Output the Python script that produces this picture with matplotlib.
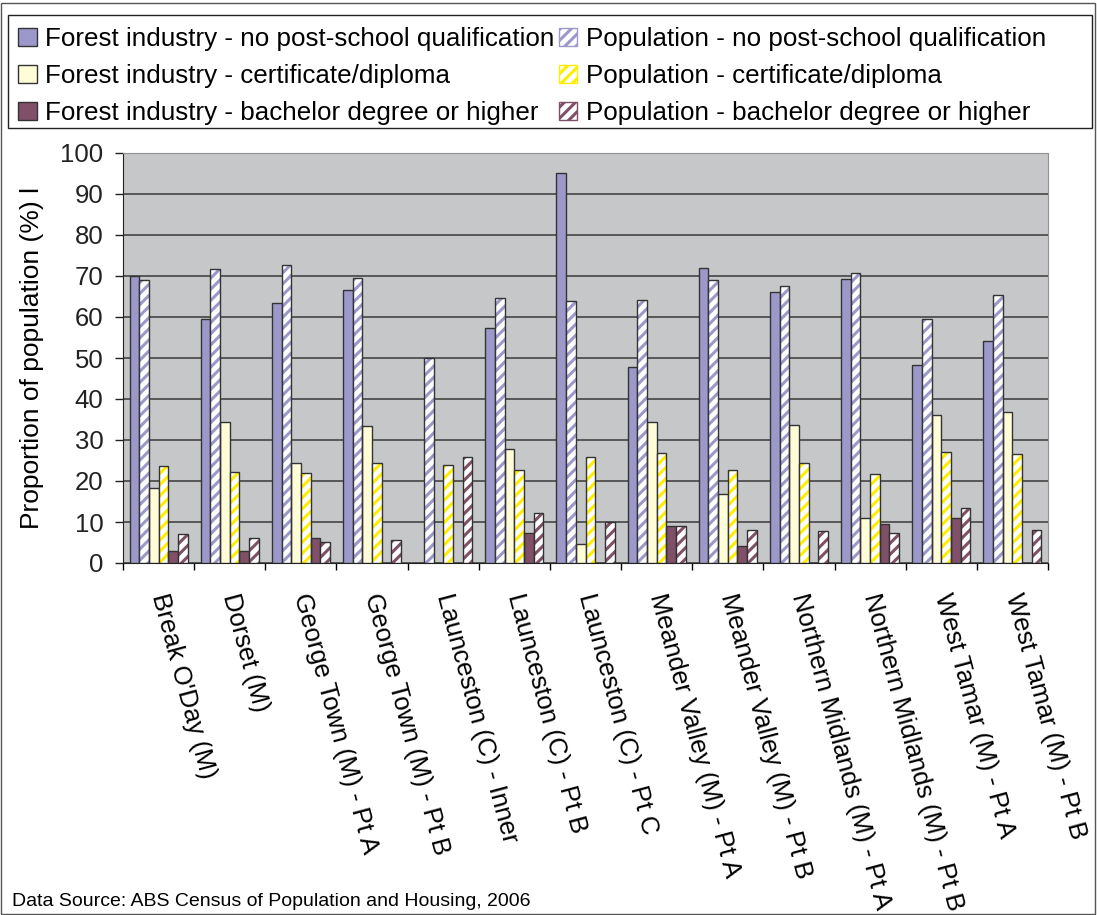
import matplotlib
matplotlib.use("Agg")
import matplotlib.pyplot as plt
import numpy as np
from matplotlib.patches import Rectangle, Patch

categories = ["Break O'Day (M)", "Dorset (M)", "George Town (M) - Pt A", "George Town (M) - Pt B",
              "Launceston (C) - Inner", "Launceston (C) - Pt B", "Launceston (C) - Pt C",
              "Meander Valley (M) - Pt A", "Meander Valley (M) - Pt B",
              "Northern Midlands (M) - Pt A", "Northern Midlands (M) - Pt B",
              "West Tamar (M) - Pt A", "West Tamar (M) - Pt B"]

fi_noqual = [70.1, 59.4, 63.3, 66.5, 0, 57.2, 95.2, 47.7, 71.9, 66.2, 69.2, 48.4, 54.2]
pop_noqual = [69.1, 71.7, 72.8, 69.5, 50.0, 64.7, 64.0, 64.2, 69.1, 67.5, 70.8, 59.6, 65.3]
fi_cert = [18.4, 34.4, 24.4, 33.5, 0, 27.9, 4.7, 34.3, 16.8, 33.6, 11.0, 36.1, 36.9]
pop_cert = [23.7, 22.2, 22.0, 24.4, 24.0, 22.7, 25.9, 26.9, 22.6, 24.4, 21.7, 27.0, 26.5]
fi_bach = [2.9, 2.9, 6.1, 0, 0, 7.2, 0, 9.0, 4.2, 0, 9.6, 11.0, 0]
pop_bach = [7.1, 6.1, 5.1, 5.7, 25.9, 12.3, 9.9, 9.0, 8.1, 7.8, 7.3, 13.5, 8.1]

series_labels = ["Forest industry - no post-school qualification",
                 "Population - no post-school qualification",
                 "Forest industry - certificate/diploma",
                 "Population - certificate/diploma",
                 "Forest industry - bachelor degree or higher",
                 "Population - bachelor degree or higher"]

plt.rcParams['font.family'] = ['Liberation Sans', 'DejaVu Sans']
plt.rcParams['hatch.linewidth'] = 2.2

C_NO = '#9C99CA'
C_CERT_FI = '#FFFDD8'
C_CERT_POP = '#FFEE00'
C_BACH = '#7F5068'
EDGE = '#333333'

W, H = 1097, 915
fig = plt.figure(figsize=(W / 100, H / 100), dpi=100)
ax = fig.add_axes([123 / W, 1 - 563 / H, (1048 - 123) / W, (563 - 153) / H])
ax.set_facecolor('#C6C7C9')

x = np.arange(len(categories))
bw = 0.136
series = [(fi_noqual, C_NO, None), (pop_noqual, 'white', C_NO),
          (fi_cert, C_CERT_FI, None), (pop_cert, 'white', C_CERT_POP),
          (fi_bach, C_BACH, None), (pop_bach, 'white', C_BACH)]
for i, (vals, fc, hc) in enumerate(series):
    pos = x - 3 * bw + bw / 2 + i * bw
    vals = np.array(vals, dtype=float)
    if hc is None:
        ax.bar(pos, vals, bw, color=fc, edgecolor=EDGE, linewidth=1.0, zorder=3)
    else:
        ax.bar(pos, vals, bw, color=fc, edgecolor=hc, hatch='///', linewidth=0, zorder=3)
        ax.bar(pos, vals, bw, fill=False, edgecolor=EDGE, linewidth=1.0, zorder=4)

ax.set_xlim(-0.5, len(categories) - 0.5)
ax.set_ylim(0, 100)
ax.set_yticks(np.arange(0, 101, 10))
ax.yaxis.grid(True, color='#3a3a3a', linewidth=1.1, zorder=1)
ax.set_axisbelow(True)
ax.tick_params(axis='y', labelsize=18.5, length=6, width=1, direction='out', pad=8, colors='#222222')

ax.set_xticks(np.arange(-0.5, len(categories), 1.0))
ax.set_xticklabels([])
ax.tick_params(axis='x', which='major', length=5, width=1, direction='out')
ax.set_xticks(x, minor=True)
ax.set_xticklabels(categories, minor=True, rotation=-75, ha='left', va='center',
                   rotation_mode='anchor', fontsize=18.5)
ax.tick_params(axis='x', which='minor', length=0, pad=22)

for s in ['top', 'right']:
    ax.spines[s].set_color('#909090')
for s in ['left', 'bottom']:
    ax.spines[s].set_color('#222222')

ax.set_ylabel('Proportion of population (%) l', fontsize=19, labelpad=12)

handles = []
for vals, fc, hc in series:
    if hc is None:
        handles.append(Patch(facecolor=fc, edgecolor=EDGE, linewidth=1.0))
    else:
        handles.append(Patch(facecolor=fc, edgecolor=hc, hatch='///', linewidth=1.0))
order = [0, 2, 4, 1, 3, 5]
leg = fig.legend([handles[i] for i in order], [series_labels[i] for i in order],
                 loc='upper left', bbox_to_anchor=(18 / W, 1 - 27 / H), ncol=2,
                 frameon=False, fontsize=18.7, handlelength=0.72, handleheight=0.72,
                 handletextpad=0.33, columnspacing=0.15, labelspacing=0.5,
                 borderaxespad=0, borderpad=0)
fig.add_artist(Rectangle((8 / W, 1 - 128 / H), (1092 - 8) / W, (128 - 15) / H,
                         transform=fig.transFigure, fill=False, edgecolor='#222222', linewidth=1.0))
fig.add_artist(Rectangle((1 / W, 1 / H), (W - 3) / W, (H - 4) / H,
                         transform=fig.transFigure, fill=False, edgecolor='#555555', linewidth=1.0))

fig.text(12 / W, 1 - 901 / H, 'Data Source: ABS Census of Population and Housing, 2006',
         fontsize=14, va='center', ha='left',
         family=['Liberation Sans Narrow', 'Liberation Sans', 'DejaVu Sans'])

fig.savefig('out.png', dpi=100, facecolor='white')
